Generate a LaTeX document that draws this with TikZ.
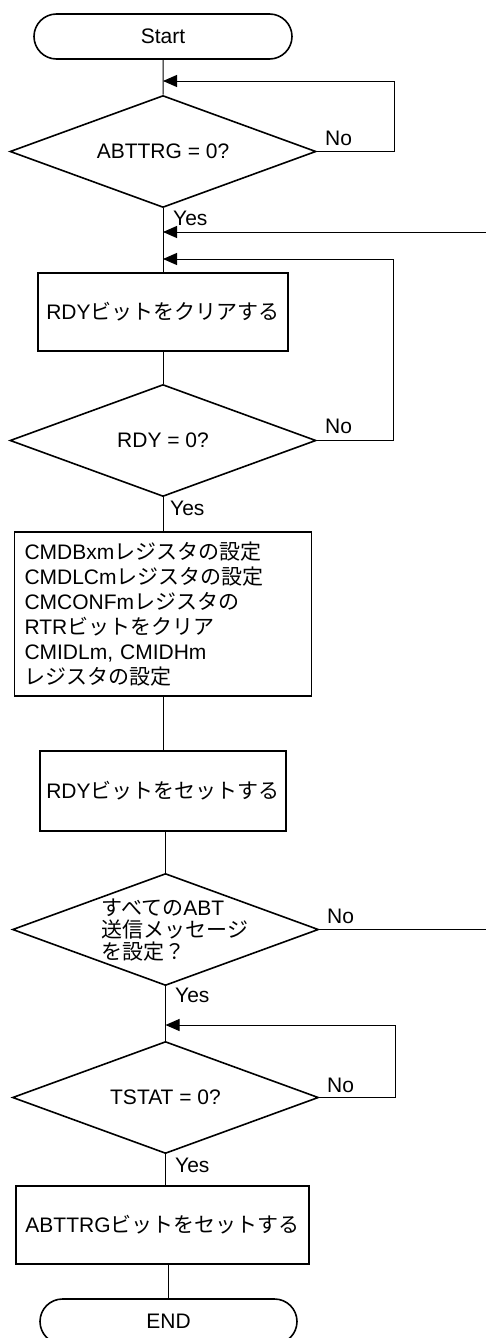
\documentclass[tikz,border=0pt]{standalone}
\usepackage{fontspec}
\setmainfont{Liberation Sans}
\newfontfamily\jp{Noto Sans CJK JP}
\usetikzlibrary{shapes.geometric,shapes.misc,arrows.meta}
\begin{document}
\begin{tikzpicture}[x=1pt,y=-1pt,
  every node/.style={font=\fontsize{21pt}{25pt}\selectfont},
  term/.style={rounded rectangle, draw, line width=1.6pt, minimum width=258pt, minimum height=45pt, inner sep=0pt},
  dia/.style={diamond, draw, line width=1.6pt, minimum width=306pt, minimum height=112pt, inner sep=0pt},
  proc/.style={rectangle, draw, line width=1.6pt, inner sep=0pt},
  conn/.style={line width=1pt},
  arr/.style={-{Triangle[length=14pt,width=12pt]}},
  lab/.style={anchor=base west, inner sep=0pt}]
\useasboundingbox (0,0) rectangle (485,1338);
% nodes
\node[term] (start) at (163,36.5) {Start};
\node[dia] (d1) at (163,151.5) {};
\node (d1t) at (163,151.5) {ABTTRG = 0?};
\node[proc, minimum width=250pt, minimum height=78pt] (b1) at (163,312) {RDY{\jp ビットをクリアする}};
\node[dia] (d2) at (163,440.5) {};
\node (d2t) at (163,440.5) {RDY = 0?};
\node[proc, minimum width=297pt, minimum height=164pt, text width=277pt, inner xsep=10pt, align=left] (b2) at (163,614) {CMDBxm{\jp レジスタの設定}\\
CMDLCm{\jp レジスタの設定}\\
CMCONFm{\jp レジスタの}\\
RTR{\jp ビットをクリア}\\
CMIDLm, CMIDHm\\
{\jp レジスタの設定}};
\node[proc, minimum width=246pt, minimum height=80pt] (b3) at (163,791) {RDY{\jp ビットをセットする}};
\node[dia] (d3) at (165.5,929.5) {};
\node[align=left, font=\fontsize{21pt}{22pt}\selectfont] (d3t) at (175,930) {{\jp すべての}ABT\\{\jp 送信メッセージ}\\{\jp を設定？}};
\node[dia] (d4) at (165.5,1097.5) {};
\node (d4t) at (165.5,1097.5) {TSTAT = 0?};
\node[proc, minimum width=293pt, minimum height=78pt] (b4) at (162.5,1225) {ABTTRG{\jp ビットをセットする}};
\node[term, minimum width=257pt] (end) at (168.5,1321.5) {END};
% helper coordinates
\coordinate (j1) at (163,81);
\coordinate (r1) at (394,0);
\coordinate (j2) at (163,232);
\coordinate (e2) at (486,232);
\coordinate (j3) at (163,259);
\coordinate (r3) at (393,0);
\coordinate (e3) at (486,929.5);
\coordinate (j4) at (165.5,1025);
\coordinate (r4) at (395,0);
% connectors
\draw[conn] (start) -- (d1);
\draw[conn] (d1) -- (b1);
\draw[conn] (b1) -- (d2);
\draw[conn] (d2) -- (b2);
\draw[conn] (b2) -- (b3);
\draw[conn] (b3.south -| d3.north) -- (d3.north);
\draw[conn] (d3) -- (d4);
\draw[conn] (d4.south) -- (d4.south |- b4.north);
\draw[conn] (b4.south -| end.north) -- (end.north);
\draw[conn,arr] (d1.east) -- (d1.east -| r1) |- (j1);
\draw[conn,arr] (e2) -- (j2);
\draw[conn,arr] (d2.east) -- (d2.east -| r3) |- (j3);
\draw[conn] (d3.east) -- (e3);
\draw[conn,arr] (d4.east) -- (d4.east -| r4) |- (j4);
% labels
\node[lab] (y1) at (173,225) {Yes};
\node[lab] (n1) at (325,145) {No};
\node[lab] (y2) at (170,515) {Yes};
\node[lab] (n2) at (325,433) {No};
\node[lab] (y3) at (175,1002) {Yes};
\node[lab] (n3) at (327,923) {No};
\node[lab] (y4) at (175,1172) {Yes};
\node[lab] (n4) at (327,1092) {No};
\end{tikzpicture}
\end{document}
